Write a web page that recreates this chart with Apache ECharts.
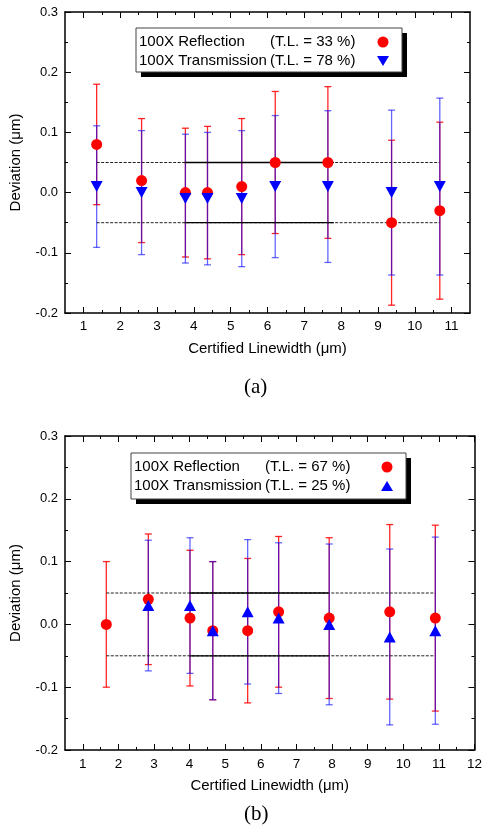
<!DOCTYPE html>
<html>
<head>
<meta charset="utf-8">
<script src="https://cdn.jsdelivr.net/npm/echarts@6/dist/echarts.min.js"></script>
<style>
  html, body { margin: 0; padding: 0; background: #fff; }
  #main { width: 485px; height: 828px; }
</style>
</head>
<body>
<div id="main"></div>
<script>
// (a) 100X reflection / transmission, T.L. = 33 % / 78 %
var xA = [1.36, 2.58, 3.77, 4.37, 5.30, 6.21, 7.64, 9.37, 10.68];
var reflA = [0.08, 0.02, 0.0, 0.0, 0.01, 0.05, 0.05, -0.05, -0.03];
var reflErrA = [0.10, 0.103, 0.107, 0.11, 0.113, 0.118, 0.126, 0.137, 0.147];
var transA = [0.01, 0.0, -0.01, -0.01, -0.01, 0.01, 0.01, 0.0, 0.01];
var transErrA = [0.101, 0.103, 0.107, 0.11, 0.113, 0.118, 0.126, 0.137, 0.147];
var limitXA = [1.36, 10.68];
var solidXA = [3.75, 7.8];

// (b) 100X reflection / transmission, T.L. = 67 % / 25 %
var xB = [1.66, 2.84, 4.01, 4.65, 5.63, 6.50, 7.92, 9.62, 10.9];
var reflB = [0.0, 0.04, 0.01, -0.01, -0.01, 0.02, 0.01, 0.02, 0.01];
var reflErrB = [0.10, 0.104, 0.108, 0.11, 0.115, 0.12, 0.128, 0.139, 0.148];
var xBT = [2.84, 4.01, 4.65, 5.63, 6.50, 7.92, 9.62, 10.9];
var transB = [0.03, 0.03, -0.01, 0.02, 0.01, 0.0, -0.02, -0.01];
var transErrB = [0.104, 0.108, 0.11, 0.115, 0.12, 0.128, 0.14, 0.149];
var limitXB = [1.66, 10.9];
var solidXB = [4.0, 7.9];

var limitY = [0.05, -0.05];
var xTicksA = [1, 2, 3, 4, 5, 6, 7, 8, 9, 10, 11];
var xTicksB = [1, 2, 3, 4, 5, 6, 7, 8, 9, 10, 11, 12];

var RED = '#ff0000', BLUE = '#0000ff';
var FONT = 'Liberation Sans';

function halves(ticks) {
  var out = [];
  for (var i = 0; i < ticks.length - 1; i++) out.push(ticks[i] + 0.5);
  return out;
}

function errData(xs, ys, es) {
  return xs.map(function (x, i) { return [x, ys[i] - es[i], ys[i] + es[i]]; });
}
function pts(xs, ys) {
  return xs.map(function (x, i) { return [x, ys[i]]; });
}

// vertical error bar with caps
function errRenderer(color, alpha) {
  return function (params, api) {
    var x = api.value(0), lo = api.value(1), hi = api.value(2);
    var p1 = api.coord([x, hi]), p2 = api.coord([x, lo]);
    var w = 3.5;
    var st = { stroke: color, lineWidth: 1.3, opacity: alpha, fill: null };
    return {
      type: 'group',
      children: [
        { type: 'line', shape: { x1: p1[0], y1: p1[1], x2: p2[0], y2: p2[1] }, style: st },
        { type: 'line', shape: { x1: p1[0] - w, y1: p1[1], x2: p1[0] + w, y2: p1[1] }, style: st },
        { type: 'line', shape: { x1: p2[0] - w, y1: p2[1], x2: p2[0] + w, y2: p2[1] }, style: st }
      ]
    };
  };
}

// axes for one panel: x bottom major/minor, x top major/minor
function xAxes(gi, max, ticks, labelMargin) {
  var base = { type: 'value', gridIndex: gi, min: 0.5, max: max, splitLine: { show: false } };
  var line = { show: true, onZero: false, lineStyle: { color: '#000', width: 1.5 } };
  var noLine = { show: false, onZero: false };
  return [
    Object.assign({}, base, {
      position: 'bottom', axisLine: line,
      axisTick: { inside: true, length: 6, customValues: ticks, lineStyle: { color: '#000' } },
      axisLabel: { customValues: ticks, margin: labelMargin, color: '#000', fontFamily: FONT, fontSize: 13.5 },
      name: 'Certified Linewidth (\u03bcm)', nameLocation: 'middle', nameGap: 28,
      nameTextStyle: { color: '#000', fontFamily: FONT, fontSize: 15 }
    }),
    Object.assign({}, base, {
      position: 'bottom', axisLine: noLine,
      axisTick: { inside: true, length: 3, customValues: halves(ticks), lineStyle: { color: '#000' } },
      axisLabel: { show: false }
    }),
    Object.assign({}, base, {
      position: 'top', axisLine: line,
      axisTick: { inside: true, length: 6, customValues: ticks, lineStyle: { color: '#000' } },
      axisLabel: { show: false }
    }),
    Object.assign({}, base, {
      position: 'top', axisLine: noLine,
      axisTick: { inside: true, length: 3, customValues: halves(ticks), lineStyle: { color: '#000' } },
      axisLabel: { show: false }
    })
  ];
}

function yAxes(gi, labelMargin) {
  var base = {
    type: 'value', gridIndex: gi, min: -0.2, max: 0.3, interval: 0.1,
    splitLine: { show: false }, minorSplitLine: { show: false },
    axisLine: { show: true, onZero: false, lineStyle: { color: '#000', width: 1.5 } },
    axisTick: { inside: true, length: 6, lineStyle: { color: '#000' } },
    minorTick: { show: true, splitNumber: 2, length: 3, lineStyle: { color: '#000' } }
  };
  return [
    Object.assign({}, base, {
      position: 'left',
      axisLabel: {
        margin: labelMargin, color: '#000', fontFamily: FONT, fontSize: 13,
        formatter: function (v) { return v.toFixed(1); }
      },
      name: 'Deviation (\u03bcm)', nameLocation: 'middle', nameGap: 42, nameRotate: 90,
      nameTextStyle: { color: '#000', fontFamily: FONT, fontSize: 15 }
    }),
    Object.assign({}, base, { position: 'right', axisLabel: { show: false } })
  ];
}

function panelSeries(xi, yi, xr, yr, er, xt, yt, et, limX, solX, downTri) {
  var s = [];
  s.push({
    type: 'custom', xAxisIndex: xi, yAxisIndex: yi, renderItem: errRenderer(RED, 0.85),
    data: errData(xr, yr, er), encode: { x: 0, y: [1, 2] }, z: 2, silent: true
  });
  s.push({
    type: 'custom', xAxisIndex: xi, yAxisIndex: yi, renderItem: errRenderer(BLUE, 0.6),
    data: errData(xt, yt, et), encode: { x: 0, y: [1, 2] }, z: 3, silent: true
  });
  limitY.forEach(function (ly) {
    s.push({
      type: 'line', xAxisIndex: xi, yAxisIndex: yi, symbol: 'none', z: 4, silent: true,
      lineStyle: { color: '#222', width: 1, type: [3, 1.5] },
      data: [[limX[0], ly], [limX[1], ly]]
    });
    s.push({
      type: 'line', xAxisIndex: xi, yAxisIndex: yi, symbol: 'none', z: 4, silent: true,
      lineStyle: { color: '#000', width: 1.3 },
      data: [[solX[0], ly], [solX[1], ly]]
    });
  });
  s.push({
    type: 'scatter', xAxisIndex: xi, yAxisIndex: yi, symbol: 'circle', symbolSize: 11,
    itemStyle: { color: RED, opacity: 1 }, data: pts(xr, yr), z: 5
  });
  s.push({
    type: 'scatter', xAxisIndex: xi, yAxisIndex: yi, symbol: 'triangle', symbolSize: [12, 11],
    symbolRotate: downTri ? 180 : 0,
    itemStyle: { color: BLUE, opacity: 1 }, data: pts(xt, yt), z: 6
  });
  return s;
}

function legendBox(x, y, w, h, tl1, tl2, downTri) {
  var mx = x + w - 19;
  var r1 = y + 14, r2 = y + 33;
  var tri = downTri
    ? [[mx - 6, r2 - 5], [mx + 6, r2 - 5], [mx, r2 + 5]]
    : [[mx - 6, r2 + 5], [mx + 6, r2 + 5], [mx, r2 - 5]];
  var ts = { fill: '#000', font: '15px "' + FONT + '"', textVerticalAlign: 'middle' };
  return [
    { type: 'rect', shape: { x: x + 5, y: y + 5, width: w, height: h }, style: { fill: '#000' }, z: 10 },
    { type: 'rect', shape: { x: x, y: y, width: w, height: h }, style: { fill: '#fff', stroke: '#444', lineWidth: 1 }, z: 11 },
    { type: 'text', x: x + 3, y: r1, style: Object.assign({ text: '100X Reflection' }, ts), z: 12 },
    { type: 'text', x: x + 134, y: r1, style: Object.assign({ text: tl1 }, ts), z: 12 },
    { type: 'text', x: x + 3, y: r2, style: Object.assign({ text: '100X Transmission' }, ts), z: 12 },
    { type: 'text', x: x + 134, y: r2, style: Object.assign({ text: tl2 }, ts), z: 12 },
    { type: 'circle', shape: { cx: mx, cy: r1, r: 5.5 }, style: { fill: RED }, z: 12 },
    { type: 'polygon', shape: { points: tri }, style: { fill: BLUE }, z: 12 }
  ];
}

var chart = echarts.init(document.getElementById('main'));
var option = {
  backgroundColor: '#fff',
  animation: false,
  title: [
    { text: '(a)', left: 239, top: 372, textStyle: { fontFamily: 'Liberation Serif', fontSize: 21, fontWeight: 'normal', color: '#000' } },
    { text: '(b)', left: 239, top: 799, textStyle: { fontFamily: 'Liberation Serif', fontSize: 21, fontWeight: 'normal', color: '#000' } }
  ],
  grid: [
    { left: 60, top: 12, width: 410, height: 301 },
    { left: 52, top: 436, width: 426, height: 314 }
  ],
  xAxis: xAxes(0, 11.5, xTicksA, 6).concat(xAxes(1, 12, xTicksB, 7)),
  yAxis: yAxes(0, 7).concat(yAxes(1, 7)),
  series: panelSeries(0, 0, xA, reflA, reflErrA, xA, transA, transErrA, limitXA, solidXA, true)
    .concat(panelSeries(4, 2, xB, reflB, reflErrB, xBT, transB, transErrB, limitXB, solidXB, false)),
  graphic: legendBox(136, 28, 266, 44, '(T.L. = 33 %)', '(T.L. = 78 %)', true)
    .concat(legendBox(131, 453, 275, 46, '(T.L. = 67 %)', '(T.L. = 25 %)', false))
};
chart.setOption(option);
</script>
</body>
</html>
